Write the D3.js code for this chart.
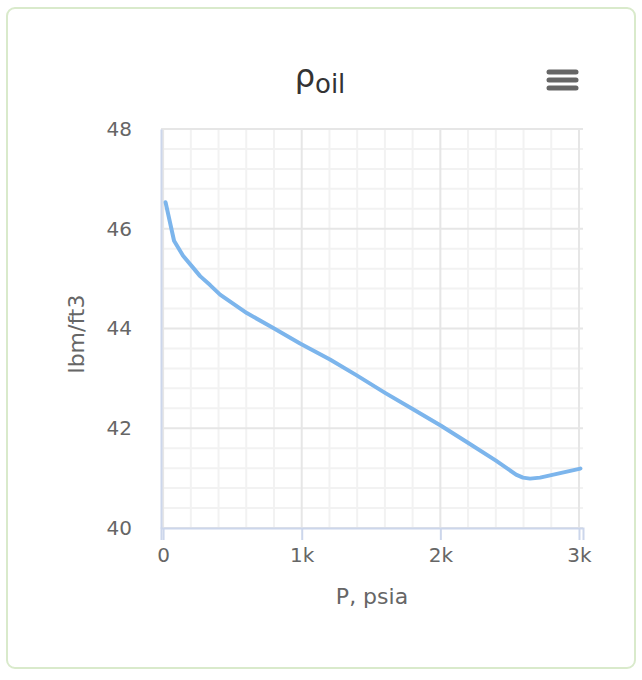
<!DOCTYPE html>
<html>
<head>
<meta charset="utf-8">
<script src="https://cdn.jsdelivr.net/npm/d3@7"></script>
<style>
  body { margin: 0; background: #fff; font-family: "DejaVu Sans", sans-serif; }
  #box { position: absolute; left: 6px; top: 7px; width: 626px; height: 658px;
         border: 2px solid #d9eacb; border-radius: 9px; }
</style>
</head>
<body>
<div id="box"></div>
<div id="chart1" style="position:absolute;left:0;top:0"></div>
<script>

// pressure, psia
const pressure = [18, 79, 144, 216, 267, 339, 411, 604, 795, 988, 1204, 1397, 1601, 1803, 2005, 2199, 2401, 2546, 2596, 2647, 2719, 3010];
// oil density, lbm/ft3
const density = [46.53, 45.76, 45.46, 45.22, 45.05, 44.87, 44.68, 44.31, 44.01, 43.70, 43.38, 43.06, 42.71, 42.38, 42.05, 41.71, 41.35, 41.07, 41.01, 40.99, 41.01, 41.19];
const xTicks = [0, 1000, 2000, 3000];
const yTicks = [40, 42, 44, 46, 48];

const width = 642;
const height = 680;
const margin = {top: 129, right: 59, bottom: 152, left: 161};
const w = width - margin.left - margin.right;
const h = height - margin.top - margin.bottom;

const svg = d3.select("#chart1").append("svg")
    .attr("width", width)
    .attr("height", height);

const g = svg.append("g")
    .attr("transform", "translate(" + margin.left + "," + margin.top + ")");

let x = d3.scaleLinear().domain([-15, 3029]).range([0, w]);
let y = d3.scaleLinear().domain([40, 48]).range([h, 0]);

// minor grid
g.append("g").selectAll("line")
    .data(d3.range(0, 3001, 200).filter(v => v % 1000))
    .join("line")
    .attr("x1", d => x(d)).attr("x2", d => x(d))
    .attr("y1", 0).attr("y2", h)
    .attr("stroke", "#f2f2f2").attr("stroke-width", 2);
g.append("g").selectAll("line")
    .data(d3.range(40, 48.01, 0.4).filter(v => Math.abs(v / 2 - Math.round(v / 2)) > 0.01))
    .join("line")
    .attr("x1", 0).attr("x2", w)
    .attr("y1", d => y(d)).attr("y2", d => y(d))
    .attr("stroke", "#f2f2f2").attr("stroke-width", 2);

// major grid
g.append("g").selectAll("line")
    .data(xTicks)
    .join("line")
    .attr("x1", d => x(d)).attr("x2", d => x(d))
    .attr("y1", 0).attr("y2", h)
    .attr("stroke", "#e6e6e6").attr("stroke-width", 2);
g.append("g").selectAll("line")
    .data(yTicks)
    .join("line")
    .attr("x1", 0).attr("x2", w)
    .attr("y1", d => y(d)).attr("y2", d => y(d))
    .attr("stroke", "#e6e6e6").attr("stroke-width", 2);

// axes
const xAxis = g.append("g")
    .attr("transform", "translate(0," + h + ")")
    .call(d3.axisBottom(x).tickValues(xTicks).tickSize(12).tickPadding(8)
        .tickFormat(d => d === 0 ? "0" : (d / 1000) + "k"));
xAxis.select(".domain").attr("stroke", "#ccd6eb").attr("stroke-width", 2);
xAxis.selectAll(".tick line").attr("stroke", "#ccd6eb").attr("stroke-width", 2);

const yAxis = g.append("g")
    .call(d3.axisLeft(y).tickValues(yTicks).tickSize(0).tickPadding(29));
yAxis.select(".domain").attr("stroke", "#ccd6eb").attr("stroke-width", 2);

svg.selectAll(".tick text")
    .attr("fill", "#666")
    .style("font-family", "DejaVu Sans")
    .style("font-size", "20px");

// the line
g.append("path")
    .datum(pressure.map((p, i) => [p, density[i]]))
    .attr("fill", "none")
    .attr("stroke", "#7cb5ec")
    .attr("stroke-width", 4)
    .attr("stroke-linejoin", "round")
    .attr("stroke-linecap", "round")
    .attr("d", d3.line().x(d => x(d[0])).y(d => y(d[1])));

// axis titles
svg.append("text")
    .attr("x", 372).attr("y", 604)
    .attr("text-anchor", "middle")
    .attr("fill", "#666")
    .style("font-size", "22px")
    .text("P, psia");

svg.append("text")
    .attr("transform", "translate(84,334) rotate(-90)")
    .attr("text-anchor", "middle")
    .attr("fill", "#666")
    .style("font-size", "22px")
    .text("lbm/ft3");

// title
const title = svg.append("text")
    .attr("x", 320).attr("y", 87)
    .attr("text-anchor", "middle")
    .attr("fill", "#333");
title.append("tspan").style("font-size", "32px").text("ρ");
title.append("tspan").attr("dy", 6).style("font-size", "26px").text("oil");

// menu button
svg.append("g").selectAll("line")
    .data([0, 1, 2])
    .join("line")
    .attr("x1", 549).attr("x2", 576)
    .attr("y1", d => 72 + d * 8).attr("y2", d => 72 + d * 8)
    .attr("stroke", "#666").attr("stroke-width", 5)
    .attr("stroke-linecap", "round");

</script>
</body>
</html>
